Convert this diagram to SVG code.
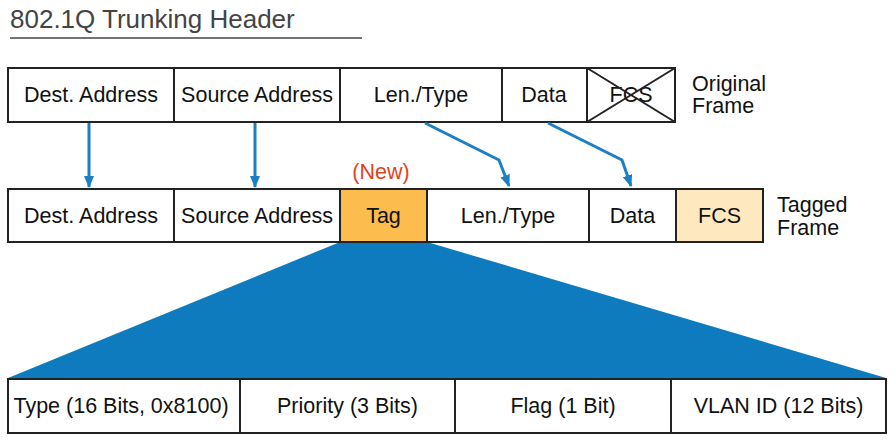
<svg xmlns="http://www.w3.org/2000/svg" width="896" height="441" viewBox="0 0 896 441">
<defs>
<style>
.t{font-family:"Liberation Sans",Arial,sans-serif;font-size:21.5px;fill:#111;text-anchor:middle}
.l{font-family:"Liberation Sans",Arial,sans-serif;font-size:21.5px;fill:#111}
.c{fill:#fff;stroke:#222;stroke-width:2}
.con{fill:none;stroke:#1a7fc3;stroke-width:3}
</style>
<marker id="ah" viewBox="0 0 12 10" refX="11" refY="5" markerWidth="12" markerHeight="10" markerUnits="userSpaceOnUse" orient="auto">
<path d="M0,0 L12,5 L0,10 Z" fill="#1a7fc3"/>
</marker>
</defs>
<rect width="896" height="441" fill="#fff"/>
<g id="title">
<text x="10" y="28" font-family="'Liberation Sans',Arial,sans-serif" font-size="26" fill="#444">802.1Q Trunking Header</text>
<line x1="10" y1="38" x2="362" y2="38" stroke="#444" stroke-width="1.5"/>
</g>
<g id="tag-expansion">
<polygon points="340,242 427,242 886,378 8,378" fill="#0e7bbf"/>
</g>
<g id="original-frame">
<rect class="c" x="8" y="68" width="166" height="54"/><text class="t" x="91" y="102">Dest. Address</text>
<rect class="c" x="174" y="68" width="166" height="54"/><text class="t" x="257" y="102">Source Address</text>
<rect class="c" x="340" y="68" width="162" height="54"/><text class="t" x="421" y="102">Len./Type</text>
<rect class="c" x="502" y="68" width="85" height="54"/><text class="t" x="544" y="102">Data</text>
<rect class="c" x="587" y="68" width="88" height="54"/><text class="t" x="631" y="102">FCS</text>
<line x1="587" y1="68" x2="675" y2="122" stroke="#222" stroke-width="2"/>
<line x1="675" y1="68" x2="587" y2="122" stroke="#222" stroke-width="2"/>
<text class="l" x="692" y="91">Original</text><text class="l" x="692" y="113">Frame</text>
</g>
<g id="tagged-frame">
<rect class="c" x="8" y="189" width="166" height="53"/><text class="t" x="91" y="223">Dest. Address</text>
<rect class="c" x="174" y="189" width="166" height="53"/><text class="t" x="257" y="223">Source Address</text>
<rect class="c" x="340" y="189" width="87" height="53" style="fill:#fdbd4e"/><text class="t" x="383.5" y="223">Tag</text>
<rect class="c" x="427" y="189" width="162" height="53"/><text class="t" x="508" y="223">Len./Type</text>
<rect class="c" x="589" y="189" width="87" height="53"/><text class="t" x="632.5" y="223">Data</text>
<rect class="c" x="676" y="189" width="87" height="53" style="fill:#fde9bd"/><text class="t" x="719.5" y="223">FCS</text>
<text class="l" x="777" y="212">Tagged</text><text class="l" x="777" y="235">Frame</text>
<text class="t" x="381" y="179" style="fill:#e0441c">(New)</text>
</g>
<g id="tag-fields">
<rect class="c" x="8" y="379" width="232" height="54"/><text class="t" x="121" y="413">Type (16 Bits, 0x8100)</text>
<rect class="c" x="240" y="379" width="215" height="54"/><text class="t" x="347.5" y="413">Priority (3 Bits)</text>
<rect class="c" x="455" y="379" width="216" height="54"/><text class="t" x="563" y="413">Flag (1 Bit)</text>
<rect class="c" x="671" y="379" width="215" height="54"/><text class="t" x="778.5" y="413">VLAN ID (12 Bits)</text>
</g>
<g id="connectors">
<path class="con" d="M89,123 L89,187" marker-end="url(#ah)"/>
<path class="con" d="M255,123 L255,187" marker-end="url(#ah)"/>
<path class="con" d="M425,123 L499,160 L509,186" marker-end="url(#ah)"/>
<path class="con" d="M548,123 L622,160 L631,186" marker-end="url(#ah)"/>
</g>
</svg>
